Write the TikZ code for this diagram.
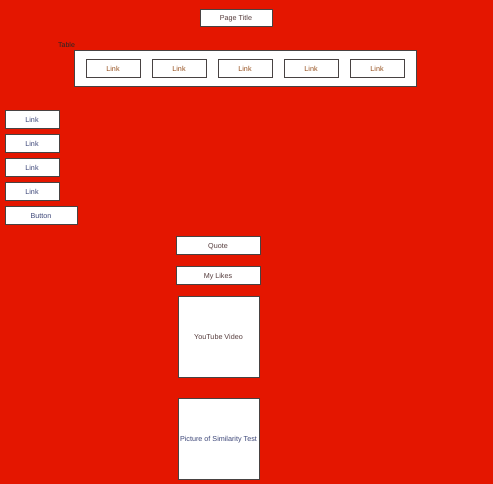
\documentclass[tikz,border=0pt]{standalone}
\usepackage{fontspec}
\setmainfont{Liberation Sans}
\usepackage{tikz}
\usetikzlibrary{arrows}
\definecolor{pagered}{RGB}{228,22,0}
\definecolor{boxline}{RGB}{72,66,66}
\definecolor{linkbrown}{RGB}{150,80,30}
\definecolor{linkblue}{RGB}{60,70,120}
\definecolor{textdark}{RGB}{85,60,60}
\tikzstyle{b} = [rectangle, draw=boxline, fill=white, line width=0.9pt, inner sep=0pt, text height=5.2pt, text depth=0pt, font=\fontsize{7.2}{8}\selectfont]
\tikzstyle{lk} = [b, minimum width=54pt, minimum height=18pt]

\begin{document}
\begin{tikzpicture}
				[x=1pt, y=-1pt]
				\fill[pagered] (0,0) rectangle (493,484);
				\useasboundingbox (0,0) rectangle (493,484);
				\draw (236,18) node[b, minimum width=72pt, minimum height=17pt, text=textdark](title){Page Title};
				\draw (58,44.5) node[anchor=west, inner sep=0pt, font=\fontsize{7}{8}\selectfont, text=black!85](tablelbl){Table};
				\draw (245,68.5) node[b, minimum width=342pt, minimum height=36pt](table){};
				\foreach \i/\x in {1/113,2/179,3/245,4/311,5/377}
					\draw (\x,68.5) node[lk, text=linkbrown](t\i){Link};
				\foreach \i/\y in {1/119.5,2/143.5,3/167.5,4/191.5}
					\draw (32,\y) node[lk, text=linkblue](s\i){Link};
				\draw (41,215.5) node[b, minimum width=72pt, minimum height=18pt, text=linkblue](button){Button};
				\draw (218,245.5) node[b, minimum width=84pt, minimum height=18pt, text=textdark](quote){Quote};
				\draw (218,275.5) node[b, minimum width=84pt, minimum height=18pt, text=textdark](likes){My Likes};
				\draw (218.5,337) node[b, minimum width=81pt, minimum height=81pt, text=textdark](video){YouTube Video};
				\draw (218.5,439) node[b, minimum width=81pt, minimum height=81pt, text=linkblue](picture){Picture of Similarity Test};
			\end{tikzpicture}
\end{document}
